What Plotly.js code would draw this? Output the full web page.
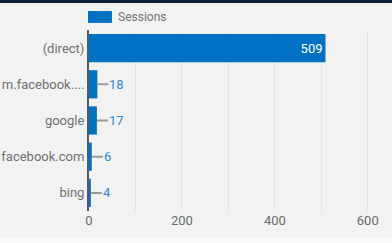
<!DOCTYPE html>
<html>
<head>
<meta charset="utf-8">
<script src="https://cdn.plot.ly/plotly-3.0.1.min.js"></script>
<style>
html,body{margin:0;padding:0;background:#fafafa;width:392px;height:243px;overflow:hidden;}
#topbar{position:absolute;left:0;top:0;width:392px;height:3px;background:#0c2238;z-index:10;}
#chart{position:absolute;left:0;top:0;width:392px;height:238px;}
</style>
</head>
<body>
<div id="chart"></div>
<div id="topbar"></div>
<script>
const categories = ["(direct)", "m.facebook....", "google", "facebook.com", "bing"];
const sessions = [509, 18, 17, 6, 4];
const seriesName = "Sessions";
const insideThreshold = 100;

const blue = "#0072c6";
const labelBlue = "#2a8ad8";

const trace = {
  type: "bar",
  orientation: "h",
  y: categories,
  x: sessions,
  name: seriesName,
  marker: {color: blue},
  text: sessions.map(v => v >= insideThreshold ? String(v) : ""),
  textposition: "inside",
  insidetextanchor: "end",
  textfont: {family: "Roboto, sans-serif", size: 13, color: "#ffffff"},
  hoverinfo: "none",
  showlegend: false,
  cliponaxis: false
};

const annotations = [];
categories.forEach((c, i) => {
  if (sessions[i] < insideThreshold) {
    annotations.push({
      x: sessions[i], y: c, xref: "x", yref: "y",
      text: String(sessions[i]),
      showarrow: true, arrowhead: 0, arrowwidth: 2, arrowcolor: "#9a9a9a",
      ax: 11, ay: 0, xanchor: "left", yanchor: "middle",
      font: {family: "Roboto, sans-serif", size: 13, color: labelBlue},
      borderpad: 0
    });
  }
});
// legend label
annotations.push({
  xref: "paper", yref: "paper", x: 0.088, y: 1.072,
  xanchor: "left", yanchor: "middle", showarrow: false,
  text: seriesName,
  font: {family: "Roboto, sans-serif", size: 12, color: "#757575"}
});

const layout = {
  width: 392, height: 238,
  margin: {l: 89, r: 1, t: 30, b: 27, pad: 0},
  paper_bgcolor: "#f2f2f2",
  plot_bgcolor: "#f2f2f2",
  bargap: 0.22,
  xaxis: {
    range: [0, 650],
    dtick: 200, tick0: 0,
    showgrid: true, gridcolor: "#e4e4e4", gridwidth: 1,
    minor: {dtick: 100, showgrid: true, gridcolor: "#e4e4e4", gridwidth: 1},
    zeroline: false,
    showline: false,
    ticks: "",
    tickfont: {family: "Roboto, sans-serif", size: 13, color: "#6b6b6b"},
    fixedrange: true
  },
  yaxis: {
    autorange: "reversed",
    showgrid: false, zeroline: false,
    showline: true, linecolor: "#5a5a5a", linewidth: 2,
    ticks: "", ticklabelstandoff: 0,
    tickfont: {family: "Roboto, sans-serif", size: 13, color: "#707070"},
    fixedrange: true
  },
  shapes: [
    {type: "rect", xref: "paper", yref: "paper", x0: -0.0033, x1: 0.076, y0: 1.039, y1: 1.105,
     fillcolor: blue, line: {width: 0}}
  ],
  annotations: annotations,
  showlegend: false,
  font: {family: "Roboto, sans-serif"}
};

Plotly.newPlot("chart", [trace], layout, {displayModeBar: false, staticPlot: true});
</script>
</body>
</html>
